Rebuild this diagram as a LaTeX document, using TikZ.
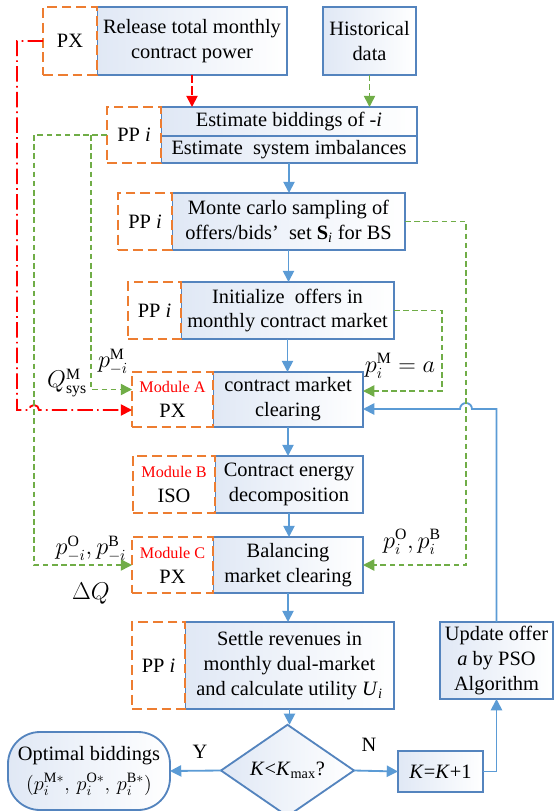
\documentclass[tikz,border=0pt]{standalone}
\usepackage{fontspec}
\setmainfont{Liberation Serif}
\usetikzlibrary{arrows.meta,calc,shapes.geometric}

\definecolor{boxline}{RGB}{84,132,190}
\definecolor{flowblue}{RGB}{91,155,213}
\definecolor{roleorange}{RGB}{237,125,49}
\definecolor{infogreen}{RGB}{112,173,71}
\definecolor{boxshade}{RGB}{224,232,245}

\newcommand{\modname}[1]{{\fontsize{11.5}{14}\selectfont\color{red}#1}}

\tikzset{
  sz/.style 2 args={minimum width=#1*0.025cm, minimum height=#2*0.025cm},
  procbox/.style={draw=boxline, line width=1.3pt, left color=boxshade, right color=white,
    align=center, inner sep=1pt, outer sep=0pt},
  rolebox/.style={draw=roleorange, line width=1.4pt, dash pattern=on 7pt off 3.5pt,
    fill=white, align=center, inner sep=1pt, outer sep=0pt},
  arr/.style={-{Triangle[length=8pt,width=8pt]}},
  flow/.style={draw=flowblue, line width=1.3pt, arr},
  gline/.style={draw=infogreen, line width=1.1pt, dash pattern=on 4pt off 2.5pt, arr},
  rline/.style={draw=red, line width=1.3pt, dash pattern=on 11pt off 3pt on 1.2pt off 3pt, arr},
  symlabel/.style={font=\fontsize{16}{18}\selectfont, inner sep=1pt},
}

\begin{document}
\begin{tikzpicture}[x=0.025cm, y=-0.025cm, font=\fontsize{14.5}{17.7}\selectfont]
\useasboundingbox (0,0) rectangle (554,811);

% process column
\node[procbox, sz={190}{68}] (release) at (192,41) {Release total monthly\\contract power};
\node[rolebox, sz={54}{68}, anchor=east] (pxa) at (release.west) {PX};
\node[procbox, sz={93}{68}] (hist) at (369.5,41) {Historical\\data};

\node[procbox, sz={256}{29}] (est1) at (289,121.5) {Estimate biddings of -\textit{i}};
\node[procbox, sz={256}{27}, anchor=north] (est2) at (est1.south) {Estimate~ system imbalances};
\node[rolebox, sz={54}{56}, anchor=north east] (ppa) at (est1.north west) {PP \textit{i}};

\node[procbox, sz={233}{57}] (monte) at (288.5,221.5) {Monte carlo sampling of\\offers/bids’~~set~\textbf{S}\textsubscript{\textit{i}} for BS};
\node[rolebox, sz={54}{57}, anchor=east] (ppb) at (monte.west) {PP \textit{i}};

\node[procbox, sz={213}{57}] (init) at (287.5,310.5) {Initialize~ offers in\\monthly contract market};
\node[rolebox, sz={53}{57}, anchor=east] (ppc) at (init.west) {PP \textit{i}};

\node[procbox, sz={150}{55}] (clear) at (288,399.5) {contract market\\clearing};
\node[rolebox, sz={81}{55}, anchor=east] (moda) at (clear.west) {\modname{Module A}\\PX};

\node[procbox, sz={148}{57}] (decomp) at (289,484.5) {Contract energy\\decomposition};
\node[rolebox, sz={82}{57}, anchor=east] (modb) at (decomp.west) {\modname{Module B}\\ISO};

\node[procbox, sz={150}{56}] (balance) at (288,565) {Balancing\\market clearing};
\node[rolebox, sz={81}{56}, anchor=east] (modc) at (balance.west) {\modname{Module C}\\PX};

\node[procbox, sz={209}{87}] (settle) at (289.5,665.5) {Settle revenues in\\monthly dual-market\\and calculate utility \textit{U}\textsubscript{\textit{i}}};
\node[rolebox, sz={53}{87}, anchor=east] (ppd) at (settle.west) {PP \textit{i}};

\node[procbox, diamond, sz={133}{65}, inner sep=0pt] (check) at (287.5,770.5) {\textit{K}<\textit{K}\textsubscript{max}?};
\node[procbox, sz={162}{78}, rounded corners=0.8cm] (optimal) at (89,771) {Optimal biddings\\[3pt]$(p_i^{\mathrm{M}*},\,p_i^{\mathrm{O}*},\,p_i^{\mathrm{B}*})$};
\node[procbox, sz={85}{41}] (kplus) at (440.5,771.5) {\textit{K}=\textit{K}+1};
\node[procbox, sz={113}{77}] (update) at (496.5,660.5) {Update offer\\\textit{a} by PSO\\Algorithm};

% turning points of the side lines
\coordinate (rL) at (17,0);
\coordinate (gL) at (34,0);
\coordinate (gM) at (91,0);
\coordinate (gS) at (442,0);
\coordinate (gR) at (466,0);

% main flow
\foreach \a/\b in {est2/monte,monte/init,init/clear,clear/decomp,decomp/balance,balance/settle,settle/check}
  \draw[flow] (\a.south) -- (\a.south |- \b.north);
\draw[flow] (check.west) -- (optimal.east);
\draw[flow] (check.east) -- (kplus.west);
\draw[flow] (kplus.east) -| (update.south);
\draw[flow] (update.north) -- (update.north |- 0,409) -- (472,409)
  arc[start angle=0, end angle=180, radius=0.15cm] -- (clear.east |- 0,409);

% information lines
\draw[red, line width=1.3pt, dash pattern=on 6pt off 2pt, arr] (release.south) -- (release.south |- est1.north);
\draw[gline] (hist.south) -- (hist.south |- est1.north);
\draw[rline] (pxa.west) -- (rL |- pxa.west) -- (rL |- 0,410) -- (29,410)
  arc[start angle=180, end angle=0, radius=0.125cm] -- (moda.west |- 0,410);
\draw[gline] (ppa.west) -| (gL |- modc.west) -- (modc.west);
\draw[gline] (gM |- ppa.west) |- ($(moda.west)+(0,-10)$);
\draw[gline] (monte.east) -| (gR |- balance.east) -- (balance.east);
\draw[gline] (init.east) -| (gS |- 0,391) -- (clear.east |- 0,391);

% labels
\node[symlabel] (qsys) at (67,383) {$Q_{\mathrm{sys}}^{\mathrm{M}}$};
\node[symlabel] (pmi) at (113,362) {$p_{-i}^{\mathrm{M}}$};
\node[symlabel] (pia) at (400,366) {$p_i^{\mathrm{M}}=a$};
\node[symlabel] (pob) at (91,549) {$p_{-i}^{\mathrm{O}},p_{-i}^{\mathrm{B}}$};
\node[symlabel] (dq) at (91,594) {$\Delta Q$};
\node[symlabel] (piob) at (412,542) {$p_i^{\mathrm{O}},p_i^{\mathrm{B}}$};
\node (yes) at (200,752) {Y};
\node (no) at (369,745) {N};

\end{tikzpicture}
\end{document}
